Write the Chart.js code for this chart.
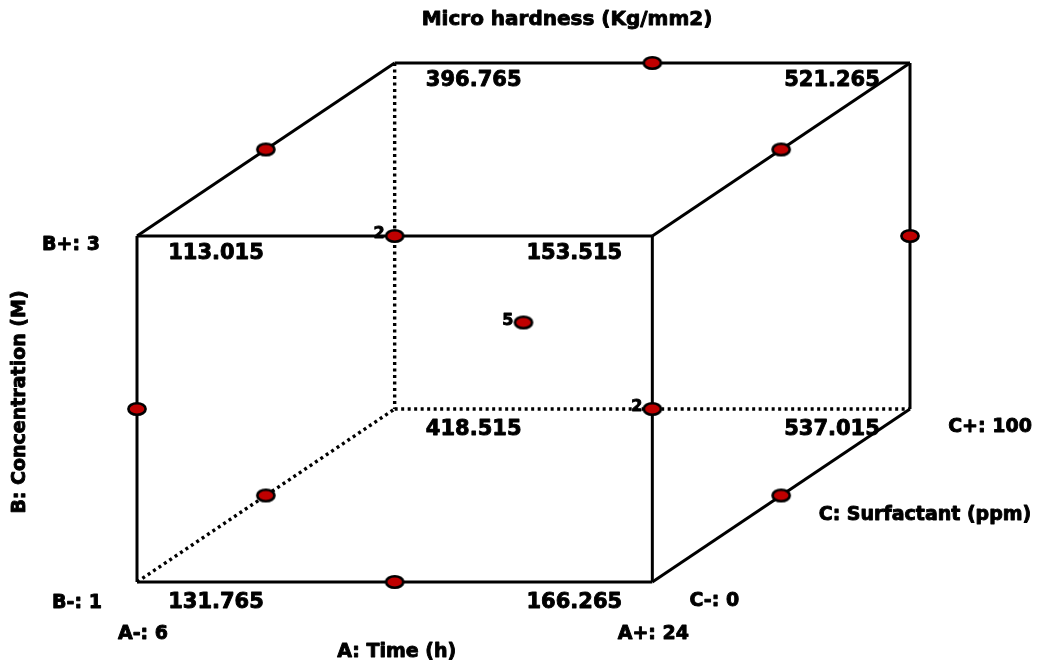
<!DOCTYPE html>
<html>
<head>
<meta charset="utf-8">
<script src="https://cdn.jsdelivr.net/npm/chart.js@4.4.1/dist/chart.umd.min.js"></script>
<style>
  html, body { margin: 0; padding: 0; background: #fff; }
  canvas { display: block; }
</style>
</head>
<body>
<canvas id="cube" width="1048" height="666"></canvas>
<script>
'use strict';

// ── Cube corners (coded levels) and predicted responses ─────────────────────
const cornerA = [-1, 1, -1, 1, -1, 1, -1, 1];
const cornerB = [-1, -1, 1, 1, -1, -1, 1, 1];
const cornerC = [-1, -1, -1, -1, 1, 1, 1, 1];
const cornerValues = ['131.765', '166.265', '113.015', '153.515', '418.515', '537.015', '396.765', '521.265'];

// ── Cube edges as corner index pairs; hidden ones are dotted ────────────────
const edgeFrom   = [0, 1, 3, 2, 4, 5, 7, 6, 0, 1, 3, 2];
const edgeTo     = [1, 3, 2, 0, 5, 7, 6, 4, 4, 5, 7, 6];
const edgeHidden = [false, false, false, false, true, false, false, true, true, false, false, false];

// ── Design points (coded) and replicate counts ──────────────────────────────
const pointA     = [-1, 0, 1, 1, 0, 0, -1, 1, -1, 0, 1];
const pointB     = [1, 1, 1, 0, 1, 0, 0, 0, -1, -1, -1];
const pointC     = [0, 1, 0, 1, -1, 0, -1, -1, 0, -1, 0];
const pointCount = [1, 1, 1, 1, 2, 5, 1, 2, 1, 1, 1];

// ── Factor labels ───────────────────────────────────────────────────────────
const chartTitle  = 'Micro hardness (Kg/mm2)';
const factorNames = ['A: Time (h)', 'B: Concentration (M)', 'C: Surfactant (ppm)'];
const lowLabels   = ['A-: 6', 'B-: 1', 'C-: 0'];
const highLabels  = ['A+: 24', 'B+: 3', 'C+: 100'];

const DEPTH = 0.5; // oblique projection of the C axis

function project(a, b, c) {
  return { x: a + DEPTH * c, y: b + DEPTH * c };
}

/** Red ellipse marker used as pointStyle */
function makeMarker() {
  const cv = document.createElement('canvas');
  cv.width = 24; cv.height = 18;
  const g = cv.getContext('2d');
  g.beginPath();
  g.ellipse(12, 9, 8.6, 5.8, 0, 0, Math.PI * 2);
  g.fillStyle = '#c00000';
  g.fill();
  g.lineWidth = 2.6;
  g.strokeStyle = '#000';
  g.stroke();
  return cv;
}

const pointData = pointA.map((a, i) => project(a, pointB[i], pointC[i]));

const edgeSets = edgeFrom.map((f, i) => {
  const t = edgeTo[i];
  return {
    data: [project(cornerA[f], cornerB[f], cornerC[f]), project(cornerA[t], cornerB[t], cornerC[t])],
    showLine: true,
    borderColor: '#000',
    borderWidth: edgeHidden[i] ? 3.4 : 3,
    borderDash: edgeHidden[i] ? [3, 3.5] : [],
    borderCapStyle: 'butt',
    pointRadius: 0,
    clip: false,
  };
});

const VALUE_FONT = 'bold 21px "DejaVu Sans"';
const LABEL_FONT = 'bold 19px "DejaVu Sans"';

// heavier text: fill plus a thin stroke
function heavyText(ctx, s, x, y) {
  ctx.fillText(s, x, y);
  ctx.strokeText(s, x, y);
}

const cubeText = {
  id: 'cubeText',
  afterDraw(chart) {
    const { ctx, scales: { x, y } } = chart;
    const px = (a, b, c) => {
      const p = project(a, b, c);
      return { x: x.getPixelForValue(p.x), y: y.getPixelForValue(p.y) };
    };
    ctx.save();
    ctx.fillStyle = '#000';
    ctx.strokeStyle = '#000';
    ctx.lineWidth = 0.9;
    ctx.lineJoin = 'round';
    ctx.textAlign = 'center';
    ctx.textBaseline = 'middle';

    // corner responses
    ctx.font = VALUE_FONT;
    cornerValues.forEach((v, i) => {
      const p = px(cornerA[i], cornerB[i], cornerC[i]);
      const dx = cornerA[i] < 0 ? 79 : -78;
      const dy = cornerB[i] < 0 ? 21 : 18;
      heavyText(ctx, v, p.x + dx, p.y + dy);
    });

    // replicate counts
    ctx.font = 'bold 16px "DejaVu Sans"';
    ctx.textAlign = 'right';
    pointCount.forEach((n, i) => {
      if (n < 2) return;
      const p = px(pointA[i], pointB[i], pointC[i]);
      heavyText(ctx, String(n), p.x - 10, p.y - 2);
    });

    // title
    ctx.textAlign = 'center';
    ctx.font = 'bold 20px "DejaVu Sans"';
    heavyText(ctx, chartTitle, 567, 20);

    // factor level labels
    ctx.font = LABEL_FONT;
    const c0 = px(-1, -1, -1), c1 = px(1, -1, -1), c2 = px(-1, 1, -1), c5 = px(1, -1, 1);
    heavyText(ctx, lowLabels[0], c0.x + 6, c0.y + 52);
    heavyText(ctx, highLabels[0], c1.x + 1, c1.y + 52);
    heavyText(ctx, factorNames[0], (c0.x + c1.x) / 2 + 2, c0.y + 70);
    heavyText(ctx, lowLabels[1], c0.x - 60, c0.y + 21);
    heavyText(ctx, highLabels[1], c2.x - 66, c2.y + 9);
    heavyText(ctx, lowLabels[2], c1.x + 62, c1.y + 19);
    heavyText(ctx, highLabels[2], c5.x + 80, c5.y + 18);
    heavyText(ctx, factorNames[2], c5.x + 15, c5.y + 106);

    // rotated B name
    ctx.translate(20, (c0.y + c2.y) / 2 - 7);
    ctx.rotate(-Math.PI / 2);
    heavyText(ctx, factorNames[1], 0, 0);
    ctx.restore();
  },
};

new Chart(document.getElementById('cube'), {
  type: 'scatter',
  data: {
    datasets: [
      {
        data: pointData,
        pointStyle: makeMarker(),
        pointRadius: 9,
        clip: false,
      },
      ...edgeSets,
    ],
  },
  options: {
    responsive: false,
    animation: false,
    events: [],
    layout: { padding: { left: 137, right: 138, top: 63, bottom: 84 } },
    plugins: { legend: { display: false }, tooltip: { enabled: false } },
    scales: {
      x: { type: 'linear', min: -1.5, max: 1.5, display: false },
      y: { type: 'linear', min: -1.5, max: 1.5, display: false },
    },
  },
  plugins: [cubeText],
});
</script>
</body>
</html>
